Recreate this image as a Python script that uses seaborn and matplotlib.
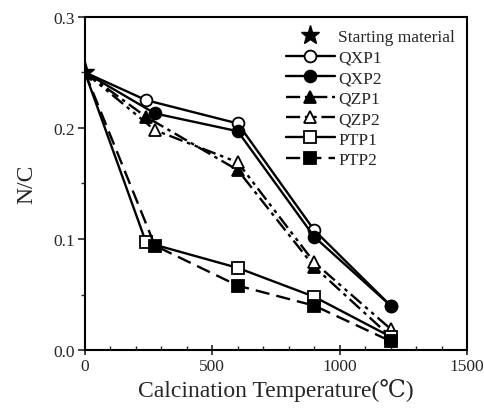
import matplotlib
matplotlib.use("Agg")
import matplotlib.pyplot as plt
import seaborn as sns
import pandas as pd
from matplotlib.ticker import MultipleLocator

sns.set_theme(style="white")
plt.rcParams['font.family'] = ['Liberation Serif', 'DejaVu Serif']

start_x = 0
start_y = 0.25

temps_1 = [240, 600, 900, 1200]
temps_2 = [275, 600, 900, 1200]

qxp1 = [0.225, 0.204, 0.108, 0.040]
qxp2 = [0.213, 0.197, 0.102, 0.040]
qzp1 = [0.210, 0.162, 0.075, 0.012]
qzp2 = [0.198, 0.169, 0.079, 0.019]
ptp1 = [0.097, 0.074, 0.048, 0.012]
ptp2 = [0.094, 0.058, 0.040, 0.008]

series = [
    ("QXP1", temps_1, qxp1, "o", "white", "-"),
    ("QXP2", temps_2, qxp2, "o", "black", "-"),
    ("QZP1", temps_1, qzp1, "^", "black", (0, (6, 2, 1.5, 2))),
    ("QZP2", temps_2, qzp2, "^", "white", (0, (6, 2, 1.5, 2, 1.5, 2))),
    ("PTP1", temps_1, ptp1, "s", "white", "-"),
    ("PTP2", temps_2, ptp2, "s", "black", (0, (6, 3))),
]

fig = plt.figure(figsize=(4.85, 4.14), dpi=100)
ax = fig.add_axes([0.175, 0.152, 0.788, 0.805])

for name, xs, ys, mk, fc, ls in series:
    df = pd.DataFrame({"x": [start_x] + xs, "y": [start_y] + ys})
    sns.lineplot(data=df, x="x", y="y", ax=ax, color="black", linestyle=ls,
                 linewidth=1.7, marker=mk, markersize=8.5, markerfacecolor=fc,
                 markeredgecolor="black", markeredgewidth=1.3,
                 markevery=list(range(1, len(df))), label=name, sort=False)

ax.plot([start_x], [start_y], linestyle="none", marker="*", markersize=14,
        color="black", label="Starting material", zorder=5)

handles, labels = ax.get_legend_handles_labels()
order = [labels.index("Starting material")] + [labels.index(s[0]) for s in series]
leg = ax.legend([handles[i] for i in order], [labels[i] for i in order],
                loc="upper right", frameon=False, fontsize=12.5,
                handlelength=2.8, handletextpad=0.2, labelspacing=0.25,
                borderaxespad=0.3, markerfirst=True)

ax.set_xlim(0, 1500)
ax.set_ylim(0, 0.3)
ax.xaxis.set_major_locator(MultipleLocator(500))
ax.xaxis.set_minor_locator(MultipleLocator(100))
ax.yaxis.set_major_locator(MultipleLocator(0.1))
ax.yaxis.set_minor_locator(MultipleLocator(0.05))
ax.yaxis.set_major_formatter(matplotlib.ticker.FormatStrFormatter("%.1f"))

ax.tick_params(axis="x", which="major", direction="inout", length=7, width=1.2,
               labelsize=12.5, pad=2, bottom=True)
ax.tick_params(axis="x", which="minor", direction="in", length=3, width=1, bottom=True)
ax.tick_params(axis="y", which="major", direction="out", length=5, width=1.2,
               labelsize=12.5, pad=2, left=True)
ax.tick_params(axis="y", which="minor", direction="out", length=3, width=1, left=True)

for sp in ax.spines.values():
    sp.set_color("black")
    sp.set_linewidth(1.5)

ax.set_xlabel("Calcination Temperature(℃)", fontsize=17, labelpad=3)
ax.set_ylabel("N/C", fontsize=17, labelpad=12)
ax.grid(False)

fig.savefig("out.png", dpi=100)
